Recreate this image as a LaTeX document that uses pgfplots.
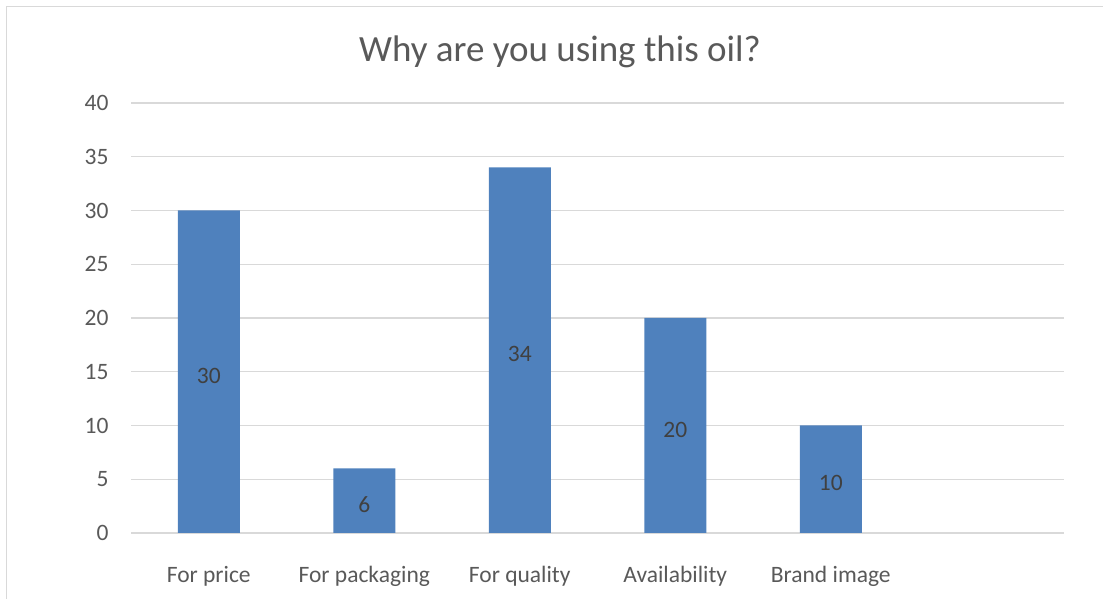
\documentclass[border=0pt]{standalone}
\usepackage{pgfplots}
\pgfplotsset{compat=1.18}
\usepackage{fontspec}
\setmainfont{Carlito}
\definecolor{barblue}{HTML}{4F81BD}
\definecolor{gridgray}{HTML}{D9D9D9}
\definecolor{txtgray}{HTML}{595959}
\definecolor{lblgray}{HTML}{404040}
\begin{document}
\begin{tikzpicture}[x=1pt,y=1pt]
\useasboundingbox (0,0) rectangle (1103,599);
\draw[gridgray, line width=1pt] (6,-10) -- (6,592.5) -- (1115,592.5);
\node[txtgray, font=\fontsize{37}{44}\selectfont, anchor=base] at (560,537) {Why are you using this oil?};
\begin{axis}[
  at={(131pt,66pt)}, anchor=south west,
  scale only axis, width=933pt, height=430pt,
  xmin=-0.5, xmax=5.5, ymin=0, ymax=40,
  ytick={0,5,...,40},
  xtick={0,1,2,3,4},
  xticklabels={For price, For packaging, For quality, Availability, Brand image},
  axis line style={draw=none},
  major tick length=0pt,
  ymajorgrids, major grid style={gridgray, line width=1.2pt},
  /pgf/number format/assume math mode=true,
  tick label style={txtgray, font=\fontsize{23.5}{28}\selectfont},
  yticklabel style={xshift=-19pt},
  xticklabel style={yshift=-30pt},
  ybar, bar width=62pt,
  clip=false,
  nodes near coords,
  visualization depends on={rawy \as \rawy},
  nodes near coords style={lblgray, font=\fontsize{23.5}{28}\selectfont, anchor=center, shift={(axis direction cs:0,-\rawy/2)}, yshift=-4pt},
]
\addplot[fill=barblue, draw=none] coordinates {(0,30) (1,6) (2,34) (3,20) (4,10)};
\end{axis}
\end{tikzpicture}
\end{document}
